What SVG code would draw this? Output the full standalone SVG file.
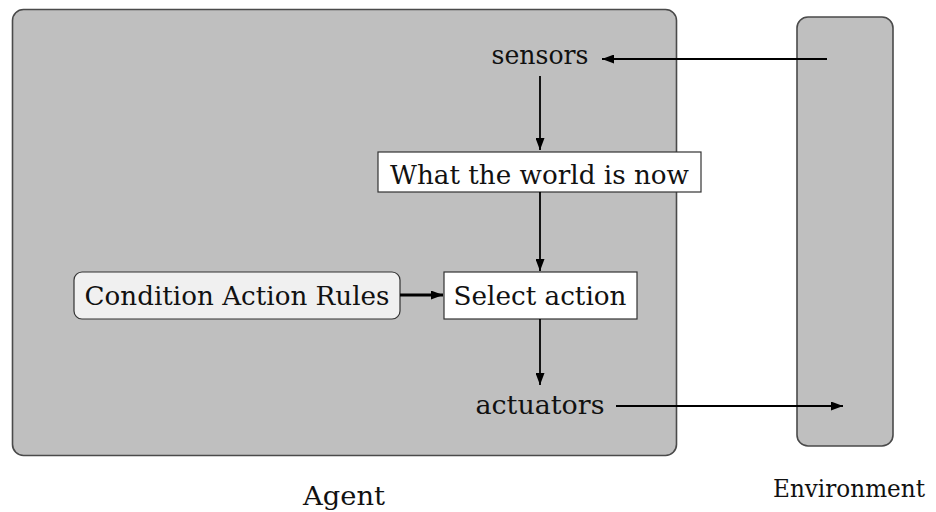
<svg xmlns="http://www.w3.org/2000/svg" width="936" height="512" viewBox="0 0 936 512">
  <style>
    text { font-family: "DejaVu Serif", "Liberation Serif", serif; font-size: 26px; fill: #111; }
    .narrow { font-size: 25px; font-stretch: condensed; }
    .region { fill: #bfbfbf; stroke: #4a4a4a; stroke-width: 1.6; }
    .box { fill: #ffffff; stroke: #333; stroke-width: 1.2; }
    .rules { fill: #f0f0f0; stroke: #333; stroke-width: 1.2; }
    .link { stroke: #000; stroke-width: 1.8; fill: none; }
    .thick { stroke-width: 2.8; }
  </style>
  <defs>
    <marker id="arrow" viewBox="0 0 12 9" refX="12" refY="4.5" markerWidth="12" markerHeight="9" markerUnits="userSpaceOnUse" orient="auto">
      <path d="M0,0 L12,4.5 L0,9 Z" fill="#000"/>
    </marker>
  </defs>

  <g id="agent">
    <rect class="region" x="12.5" y="9.5" width="664" height="446" rx="11"/>
    <text x="344" y="505" text-anchor="middle" textLength="82" lengthAdjust="spacingAndGlyphs">Agent</text>
  </g>

  <g id="environment">
    <rect class="region" x="797" y="17" width="96" height="429" rx="11"/>
    <text class="narrow" x="849" y="497" text-anchor="middle" textLength="152" lengthAdjust="spacingAndGlyphs">Environment</text>
  </g>

  <g id="sensors">
    <text x="540" y="64" text-anchor="middle" textLength="97" lengthAdjust="spacingAndGlyphs">sensors</text>
  </g>

  <g id="world-state">
    <rect class="box" x="378" y="152" width="323" height="40"/>
    <text x="539.5" y="184" text-anchor="middle" textLength="299" lengthAdjust="spacingAndGlyphs">What the world is now</text>
  </g>

  <g id="rules">
    <rect class="rules" x="74" y="272" width="326" height="47" rx="8"/>
    <text x="237" y="305" text-anchor="middle" textLength="305" lengthAdjust="spacingAndGlyphs">Condition Action Rules</text>
  </g>

  <g id="select-action">
    <rect class="box" x="444" y="272" width="193" height="47"/>
    <text x="540" y="305" text-anchor="middle" textLength="173" lengthAdjust="spacingAndGlyphs">Select action</text>
  </g>

  <g id="actuators">
    <text x="540" y="414" text-anchor="middle" textLength="129" lengthAdjust="spacingAndGlyphs">actuators</text>
  </g>

  <g id="connectors">
    <line class="link" x1="827" y1="59" x2="602" y2="59" marker-end="url(#arrow)"/>
    <line class="link" x1="540" y1="76" x2="540" y2="150" marker-end="url(#arrow)"/>
    <line class="link" x1="540" y1="192" x2="540" y2="271" marker-end="url(#arrow)"/>
    <line class="link thick" x1="400" y1="295" x2="443" y2="295" marker-end="url(#arrow)"/>
    <line class="link" x1="540" y1="319" x2="540" y2="385" marker-end="url(#arrow)"/>
    <line class="link" x1="616" y1="406" x2="843" y2="406" marker-end="url(#arrow)"/>
  </g>
</svg>
